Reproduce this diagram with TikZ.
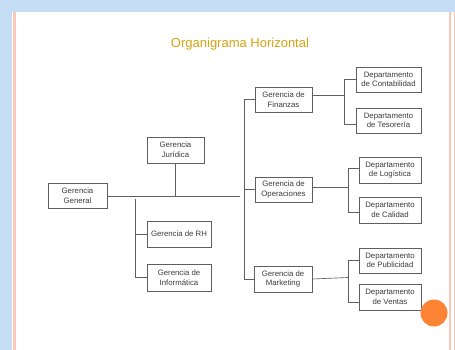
\documentclass[tikz,border=0pt]{standalone}
\usepackage{fontspec}
\setmainfont{Liberation Sans}
\definecolor{bgblue}{RGB}{197,222,245}
\definecolor{salmon}{RGB}{250,200,182}
\definecolor{titlegold}{RGB}{214,162,16}
\definecolor{linegrey}{RGB}{95,95,95}
\definecolor{txtgrey}{RGB}{60,60,60}
\definecolor{dotorange}{RGB}{253,132,52}
\begin{document}
\begin{tikzpicture}[x=1pt,y=-1pt,
  box/.style={draw=linegrey,line width=0.65pt,fill=white,inner sep=0pt,align=center,
    font=\fontsize{7.8}{9.6}\selectfont,text=txtgrey},
  conn/.style={draw=linegrey,line width=0.65pt}]
\useasboundingbox (0,0) rectangle (455,350);
\fill[bgblue] (0,0) rectangle (455,350);
\fill[white] (12,12) rectangle (455,350);
\draw[salmon,line width=2.6pt] (14.6,12) -- (14.6,350);
\draw[salmon,line width=2pt] (450,12) -- (450,350);
\draw[salmon,line width=1.5pt] (454.5,12) -- (454.5,350);
\node[text=titlegold,font=\fontsize{13}{15}\selectfont] (title) at (240,44) {Organigrama Horizontal};
% boxes
\node[box,minimum width=59pt,minimum height=25pt] (gg) at (77.5,195.5) {Gerencia\\General};
\node[box,minimum width=57pt,minimum height=26pt] (jur) at (175.5,150) {Gerencia\\Jurídica};
\node[box,minimum width=64pt,minimum height=26pt] (rh) at (179,234) {Gerencia de RH};
\node[box,minimum width=64pt,minimum height=27pt] (inf) at (179,277.5) {Gerencia de\\Informática};
\node[box,minimum width=57pt,minimum height=25pt] (fin) at (283.5,99.5) {Gerencia de\\Finanzas};
\node[box,minimum width=57pt,minimum height=25pt] (ope) at (283.5,189.5) {Gerencia de\\Operaciones};
\node[box,minimum width=58pt,minimum height=26pt] (mkt) at (283,279) {Gerencia de\\Marketing};
\node[box,minimum width=65pt,minimum height=25pt] (cont) at (388.5,79.5) {Departamento\\de Contabilidad};
\node[box,minimum width=65pt,minimum height=25pt] (tes) at (388.5,120.5) {Departamento\\de Tesorería};
\node[box,minimum width=62pt,minimum height=26pt] (log) at (390,170) {Departamento\\de Logística};
\node[box,minimum width=62pt,minimum height=26pt] (cal) at (390,210) {Departamento\\de Calidad};
\node[box,minimum width=62pt,minimum height=25pt] (pub) at (390,260.5) {Departamento\\de Publicidad};
\node[box,minimum width=62pt,minimum height=26pt] (ven) at (390,297) {Departamento\\de Ventas};
% junction coordinates
\coordinate (mainend) at (240,196.5);
\coordinate (lb) at (135,199);
\coordinate (rt) at (244,0);
\coordinate (jf) at (344,95.5);
\coordinate (jo) at (348,187);
\coordinate (jm) at (348,277.5);
% main line
\draw[conn] (gg.east |- mainend) -- (mainend);
\draw[conn] (jur.south) -- (jur.south |- mainend);
% left branch
\draw[conn] (lb) |- (inf.west);
\draw[conn] (lb |- rh.west) -- (rh.west);
% right trunk
\draw[conn] (fin.west) -- (fin.west -| rt) -- (mkt.west -| rt) -- (mkt.west);
\draw[conn] (ope.west -| rt) -- (ope.west);
% finanzas
\draw[conn] (fin.east |- jf) -- (jf);
\draw[conn] (cont.west |- 0,79) -| (jf |- 0,124) -- (tes.west |- 0,124);
% operaciones
\draw[conn] (ope.east |- jo) -- (jo);
\draw[conn] (log.west |- 0,168) -| (jo |- 0,212) -- (cal.west |- 0,212);
% marketing
\draw[conn] (mkt.east) -- (jm);
\draw[conn] (pub.west |- 0,260) -| (jm |- 0,302) -- (ven.west |- 0,302);
% orange dot
\fill[dotorange] (434,313) circle (13.5);
\end{tikzpicture}
\end{document}
